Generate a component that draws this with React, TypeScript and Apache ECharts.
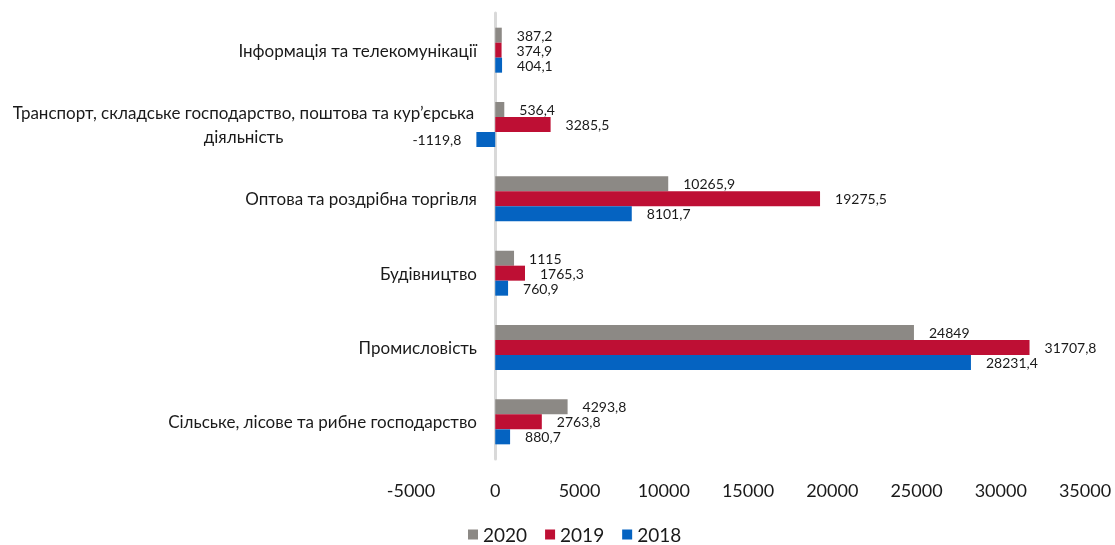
import React, { useEffect, useRef } from "react";
import * as echarts from "echarts";

const categories = [
  "Сільське, лісове та рибне господарство",
  "Промисловість",
  "Будівництво",
  "Оптова та роздрібна торгівля",
  "Транспорт, складське господарство, поштова та кур’єрська\nдіяльність",
  "Інформація та телекомунікації",
];
const values2020 = [4293.8, 24849, 1115, 10265.9, 536.4, 387.2];
const values2019 = [2763.8, 31707.8, 1765.3, 19275.5, 3285.5, 374.9];
const values2018 = [880.7, 28231.4, 760.9, 8101.7, -1119.8, 404.1];
const xTicks = { min: -5000, max: 35000, interval: 5000 };

const FONT = "Lato, 'Open Sans', sans-serif";

export default function App() {
  const ref = useRef<HTMLDivElement>(null);
  useEffect(() => {
    if (!ref.current) return;
    const chart = echarts.init(ref.current, null, { renderer: "svg" });
    const fmt = (v: number) => String(v).replace(".", ",");
    const mkData = (arr: number[]) =>
      arr.map((v) =>
        v < 0
          ? { value: v, label: { position: "left" } }
          : { value: v }
      );
    const mkSeries = (name: string, arr: number[], color: string) => ({
      name,
      type: "bar",
      data: mkData(arr),
      barWidth: 15,
      barGap: "0%",
      itemStyle: { color },
      label: {
        show: true,
        position: "right",
        distance: 15,
        color: "#1a1a1a",
        fontSize: 14,
        lineHeight: 15,
        fontFamily: FONT,
        formatter: (p: any) => fmt(p.value),
      },
    });
    chart.setOption({
      animation: false,
      textStyle: { fontFamily: FONT },
      grid: {
        left: 411,
        right: 30,
        top: 13,
        bottom: 86,
        containLabel: false,
        outerBoundsMode: "none",
      },
      legend: {
        data: ["2020", "2019", "2018"],
        top: 525,
        left: 468,
        padding: 0,
        itemWidth: 10,
        itemHeight: 10,
        itemGap: 18,
        icon: "rect",
        textStyle: { fontSize: 19, lineHeight: 19, color: "#1a1a1a", fontFamily: FONT },
      },
      xAxis: {
        type: "value",
        min: xTicks.min,
        max: xTicks.max,
        interval: xTicks.interval,
        axisLine: { show: false },
        axisTick: { show: false },
        splitLine: { show: false },
        axisLabel: {
          margin: 22,
          fontSize: 18,
          color: "#1a1a1a",
          fontFamily: FONT,
          formatter: (v: number) => String(v),
        },
      },
      yAxis: {
        type: "category",
        data: categories,
        axisLine: { show: true, onZero: true, lineStyle: { color: "#d9d9d9", width: 3 } },
        axisTick: { show: false },
        axisLabel: {
          margin: -66,
          fontSize: 17,
          color: "#1a1a1a",
          fontFamily: FONT,
          formatter: (v: string) => {
            if (v.indexOf("\n") >= 0) {
              const [a, b] = v.split("\n");
              return `{c|${a}}\n{c|${b}}`;
            }
            return v;
          },
          rich: {
            c: {
              width: 467,
              align: "center",
              fontSize: 17,
              lineHeight: 24,
              color: "#1a1a1a",
              fontFamily: FONT,
            },
          },
        },
      },
      series: [
        mkSeries("2020", values2020, "#8c8985"),
        mkSeries("2019", values2019, "#be0f34"),
        mkSeries("2018", values2018, "#0563c1"),
      ],
    });
    return () => chart.dispose();
  }, []);
  return (
    <div
      ref={ref}
      style={{ position: "fixed", left: 0, top: 0, width: 1115, height: 545 }}
    />
  );
}
